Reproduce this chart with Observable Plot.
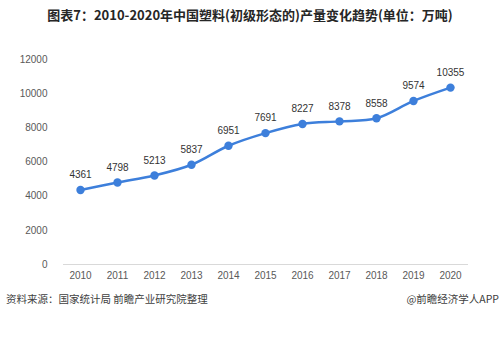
<!DOCTYPE html>
<html><head><meta charset="utf-8">
<script src="https://cdn.jsdelivr.net/npm/d3@7"></script>
<script src="https://cdn.jsdelivr.net/npm/@observablehq/plot@0.6"></script>
<style>
body{margin:0;width:500px;height:343px;background:#fff;position:relative;overflow:hidden;font-family:"Noto Sans CJK SC",sans-serif;}
#title{position:absolute;left:0;top:5px;width:500px;text-align:center;font-weight:bold;font-size:13px;color:#262626;}
#chart{position:absolute;left:0;top:30px;}
#src{position:absolute;left:6px;top:291px;font-size:10.5px;color:#404040;}
#app{position:absolute;right:1px;top:291px;font-size:10.5px;color:#404040;}
</style></head>
<body>
<div id="title">图表7：2010-2020年中国塑料(初级形态的)产量变化趋势(单位：万吨)</div>
<div id="chart"></div>
<div id="src">资料来源：国家统计局 前瞻产业研究院整理</div>
<div id="app">@前瞻经济学人APP</div>
<script>
const years = ["2010","2011","2012","2013","2014","2015","2016","2017","2018","2019","2020"];
const output = [4361,4798,5213,5837,6951,7691,8227,8378,8558,9574,10355];
const yTicks = [0,2000,4000,6000,8000,10000,12000];
const data = years.map((y,i)=>({year:y, value:output[i]}));
const blue = "#3D7FDB";
const chart = Plot.plot({
  width:500, height:255,
  marginLeft:63, marginRight:32, marginTop:29, marginBottom:21,
  style:{fontFamily:"Liberation Sans, Arial, sans-serif", fontSize:"10px", color:"#595959"},
  x:{type:"point", domain:years, range:[80,450], padding:0, label:null},
  y:{domain:[0,12000], ticks:yTicks, label:null},
  marks:[
    Plot.axisY({ticks:yTicks, tickSize:0, tickPadding:16, tickFormat:d=>String(d), fill:"#595959"}),
    Plot.axisX({tickSize:0, tickPadding:7, fill:"#595959"}),
    Plot.ruleY([0], {stroke:"#d9d9d9"}),
    Plot.line(data, {x:"year", y:"value", stroke:blue, strokeWidth:2.5, curve:"catmull-rom"}),
    Plot.dot(data, {x:"year", y:"value", fill:blue, r:4.2}),
    Plot.text(data, {x:"year", y:"value", text:d=>String(d.value), dy:-15, fill:"#333", fontSize:10})
  ]
});
document.getElementById("chart").appendChild(chart);
</script>
</body></html>
